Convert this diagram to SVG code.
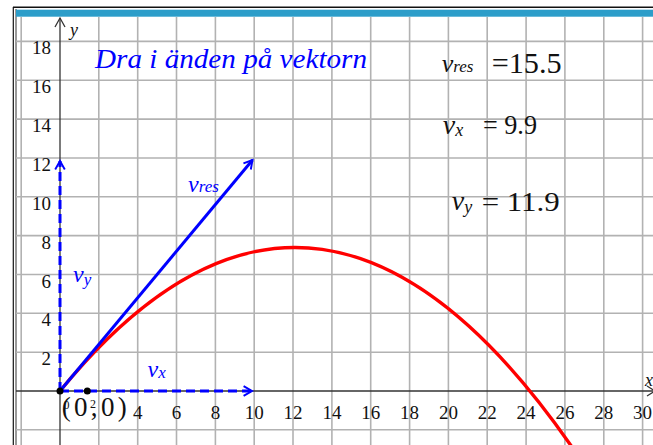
<svg xmlns="http://www.w3.org/2000/svg" width="653" height="445" viewBox="0 0 653 445">
<style>
.grid{stroke:#b2b2b2;stroke-width:1.6;fill:none}
.axis{stroke:#333;stroke-width:1.3;fill:none}
.tick{font-size:19px;fill:#111}
.tx{text-anchor:middle}
.ty{text-anchor:end}
.vec{stroke:#0000ff;stroke-width:3;fill:none}
.dash{stroke-dasharray:9 5}
.lblb{font-style:italic;fill:#0000ff}
.lblk{font-style:italic;fill:#111}
.num{fill:#111}
</style>
<defs>
<marker id="ah" viewBox="0 0 10 10" refX="8" refY="5" markerWidth="4" markerHeight="4" orient="auto" markerUnits="strokeWidth">
<path d="M1,1 L8,5 L1,9" fill="none" stroke="#0000ff" stroke-width="1.6" stroke-dasharray="none"/>
</marker>
</defs>
<rect x="0" y="0" width="653" height="445" fill="#fff"/>
<g id="frame">
<line x1="13" y1="7.3" x2="653" y2="7.3" stroke="#111" stroke-width="1.5"/>
<line x1="13.3" y1="7" x2="13.3" y2="445" stroke="#111" stroke-width="1.2"/>
<line x1="16" y1="9" x2="16" y2="445" stroke="#333" stroke-width="1"/>
<rect x="16" y="9.7" width="637" height="7" fill="#2c9dc9"/>
</g>
<g id="grid" class="grid">
<path d="M21.2,17V445M98.8,17V445M137.7,17V445M176.5,17V445M215.4,17V445M254.2,17V445M293,17V445M331.9,17V445M370.7,17V445M409.6,17V445M448.4,17V445M487.2,17V445M526.1,17V445M564.9,17V445M603.8,17V445M642.6,17V445"/>
<path d="M16,429.8H653M16,352.2H653M16,313.3H653M16,274.5H653M16,235.6H653M16,196.8H653M16,158H653M16,119.1H653M16,80.3H653M16,41.4H653"/>
</g>
<g font-family="Times New Roman, Liberation Serif, DejaVu Serif, Noto Serif, serif">
<g id="axes">
<line class="axis" x1="16" y1="391" x2="653" y2="391"/>
<line class="axis" x1="60" y1="445" x2="60" y2="18"/>
<path class="axis" d="M55,27 L60,18 L65,27"/>
<path class="axis" d="M647,386 L655,391 L647,396"/>
<text class="lblk" x="70" y="36" font-size="18">y</text>
<text class="lblk" x="645" y="386" font-size="18">x</text>
</g>
<g id="yticks" class="tick ty">
<text x="51" y="365">2</text>
<text x="51" y="326.3">4</text>
<text x="51" y="287.5">6</text>
<text x="51" y="248.6">8</text>
<text x="51" y="209.8">10</text>
<text x="51" y="171">12</text>
<text x="51" y="132.1">14</text>
<text x="51" y="93.3">16</text>
<text x="51" y="54.4">18</text>
</g>
<g id="xticks" class="tick tx">
<text x="137.7" y="419">4</text>
<text x="176.5" y="419">6</text>
<text x="215.4" y="419">8</text>
<text x="254.2" y="419">10</text>
<text x="293" y="419">12</text>
<text x="331.9" y="419">14</text>
<text x="370.7" y="419">16</text>
<text x="409.6" y="419">18</text>
<text x="448.4" y="419">20</text>
<text x="487.2" y="419">22</text>
<text x="526.1" y="419">24</text>
<text x="564.9" y="419">26</text>
<text x="603.8" y="419">28</text>
<text x="642.6" y="419">30</text>
</g>
<g id="curve">
<path d="M60,391 Q322.2,70.6 584.3,465.2" fill="none" stroke="#ff0000" stroke-width="3.4"/>
</g>
<g id="connectors">
<line class="vec dash" x1="60" y1="391" x2="252" y2="391" marker-end="url(#ah)"/>
<line class="vec dash" x1="60" y1="391" x2="60" y2="161" marker-end="url(#ah)"/>
<line class="vec" x1="60" y1="391" x2="252.5" y2="160" marker-end="url(#ah)"/>
</g>
<g id="points">
<circle cx="60" cy="391" r="3.5" fill="#000"/>
<circle cx="87.3" cy="391" r="3.5" fill="#000"/>
<text class="num" x="63.5" y="408.5" font-size="12">0</text>
<text class="num" x="90" y="408" font-size="12">2</text>
<text class="num" x="61.7" y="416" font-size="27" textLength="65" lengthAdjust="spacing">(0,0)</text>
</g>
<g id="vector-labels">
<text class="lblb" x="188" y="192"><tspan font-size="24">v</tspan><tspan font-size="17">res</tspan></text>
<text class="lblb" x="73" y="282"><tspan font-size="24">v</tspan><tspan font-size="17" dy="3">y</tspan></text>
<text class="lblb" x="147.5" y="377"><tspan font-size="24">v</tspan><tspan font-size="17" dy="1">x</tspan></text>
</g>
<g id="title">
<text class="lblb" x="95" y="68" font-size="27" textLength="272" lengthAdjust="spacingAndGlyphs">Dra i änden på vektorn</text>
</g>
<g id="values">
<text class="lblk" x="441.7" y="72"><tspan font-size="26">v</tspan><tspan font-size="17">res</tspan></text>
<text class="num" x="491.7" y="73" font-size="30" textLength="70" lengthAdjust="spacingAndGlyphs">=15.5</text>
<text class="lblk" x="442.7" y="134"><tspan font-size="28">v</tspan><tspan font-size="18" dy="2">x</tspan></text>
<text class="num" x="483" y="134" font-size="28" textLength="54" lengthAdjust="spacingAndGlyphs">= 9.9</text>
<text class="lblk" x="451.7" y="210"><tspan font-size="28">v</tspan><tspan font-size="18" dy="3">y</tspan></text>
<text class="num" x="481.7" y="210.5" font-size="28" textLength="78" lengthAdjust="spacingAndGlyphs">= 11.9</text>
</g>
</g>
</svg>
